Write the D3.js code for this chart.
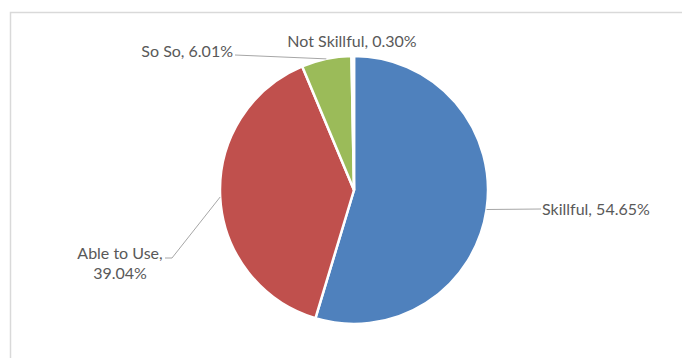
<!DOCTYPE html>
<html><head><meta charset="utf-8">
<script src="https://cdn.jsdelivr.net/npm/d3@7"></script>
<style>body{margin:0;background:#fff}svg{display:block}text{font-family:Lato,"Open Sans",sans-serif;font-size:16px;fill:#595959}</style>
</head><body><svg id="c" width="682" height="358"></svg>
<script>
const categories = ["Skillful", "Able to Use", "So So", "Not Skillful"];
const values = [54.65, 39.04, 6.01, 0.30];
const colors = ["#4F81BD", "#C0504D", "#9BBB59", "#8064A2"];

const svg = d3.select("#c");
// frame
svg.append("path").attr("d","M10.5,358 V12.5 H682").attr("fill","none").attr("stroke","#d9d9d9").attr("stroke-width",1.5);

const cx = 354, cy = 190, R = 134;
const g = svg.append("g").attr("transform",`translate(${cx},${cy})`);
const pie = d3.pie().sort(null).value(d=>d.v);
const data = pie(categories.map((c,i)=>({c, v: values[i], col: colors[i]})));
const arc = d3.arc().innerRadius(0).outerRadius(R);
g.selectAll("path.s").data(data).join("path").attr("class","s")
  .attr("d",arc).attr("fill",d=>d.data.col).attr("stroke","#fff").attr("stroke-width",2.5).attr("stroke-linejoin","round");

// label layout (absolute positions of label text and leader elbows)
const layout = [
  {elbow:null, end:[541,209], tx:542, ty:215, anchor:"start", lines:d=>[`${d.data.c}, ${d.data.v.toFixed(2)}%`]},
  {elbow:[172,258], end:[165,258], tx:120, ty:259, anchor:"middle", lines:d=>[`${d.data.c},`, `${d.data.v.toFixed(2)}%`]},
  {elbow:null, end:[235,55], tx:233, ty:57, anchor:"end", lines:d=>[`${d.data.c}, ${d.data.v.toFixed(2)}%`]},
  {elbow:null, end:null, tx:352, ty:47, anchor:"middle", lines:d=>[`${d.data.c}, ${d.data.v.toFixed(2)}%`]}
];
const outer = d3.arc().innerRadius(R).outerRadius(R);
data.forEach((d,i)=>{
  const L = layout[i];
  const [px,py] = outer.centroid(d);
  if (L.end){
    const pts = [[cx+px, cy+py]];
    if (L.elbow) pts.push(L.elbow);
    pts.push(L.end);
    svg.append("polyline").attr("points",pts.map(p=>p.join(",")).join(" "))
      .attr("fill","none").attr("stroke","#a6a6a6").attr("stroke-width",1);
  }
  const t = svg.append("text").attr("text-anchor",L.anchor);
  L.lines(d).forEach((s,k)=>{
    t.append("tspan").attr("x",L.tx).attr("y",L.ty+k*20).text(s);
  });
});
</script></body></html>
